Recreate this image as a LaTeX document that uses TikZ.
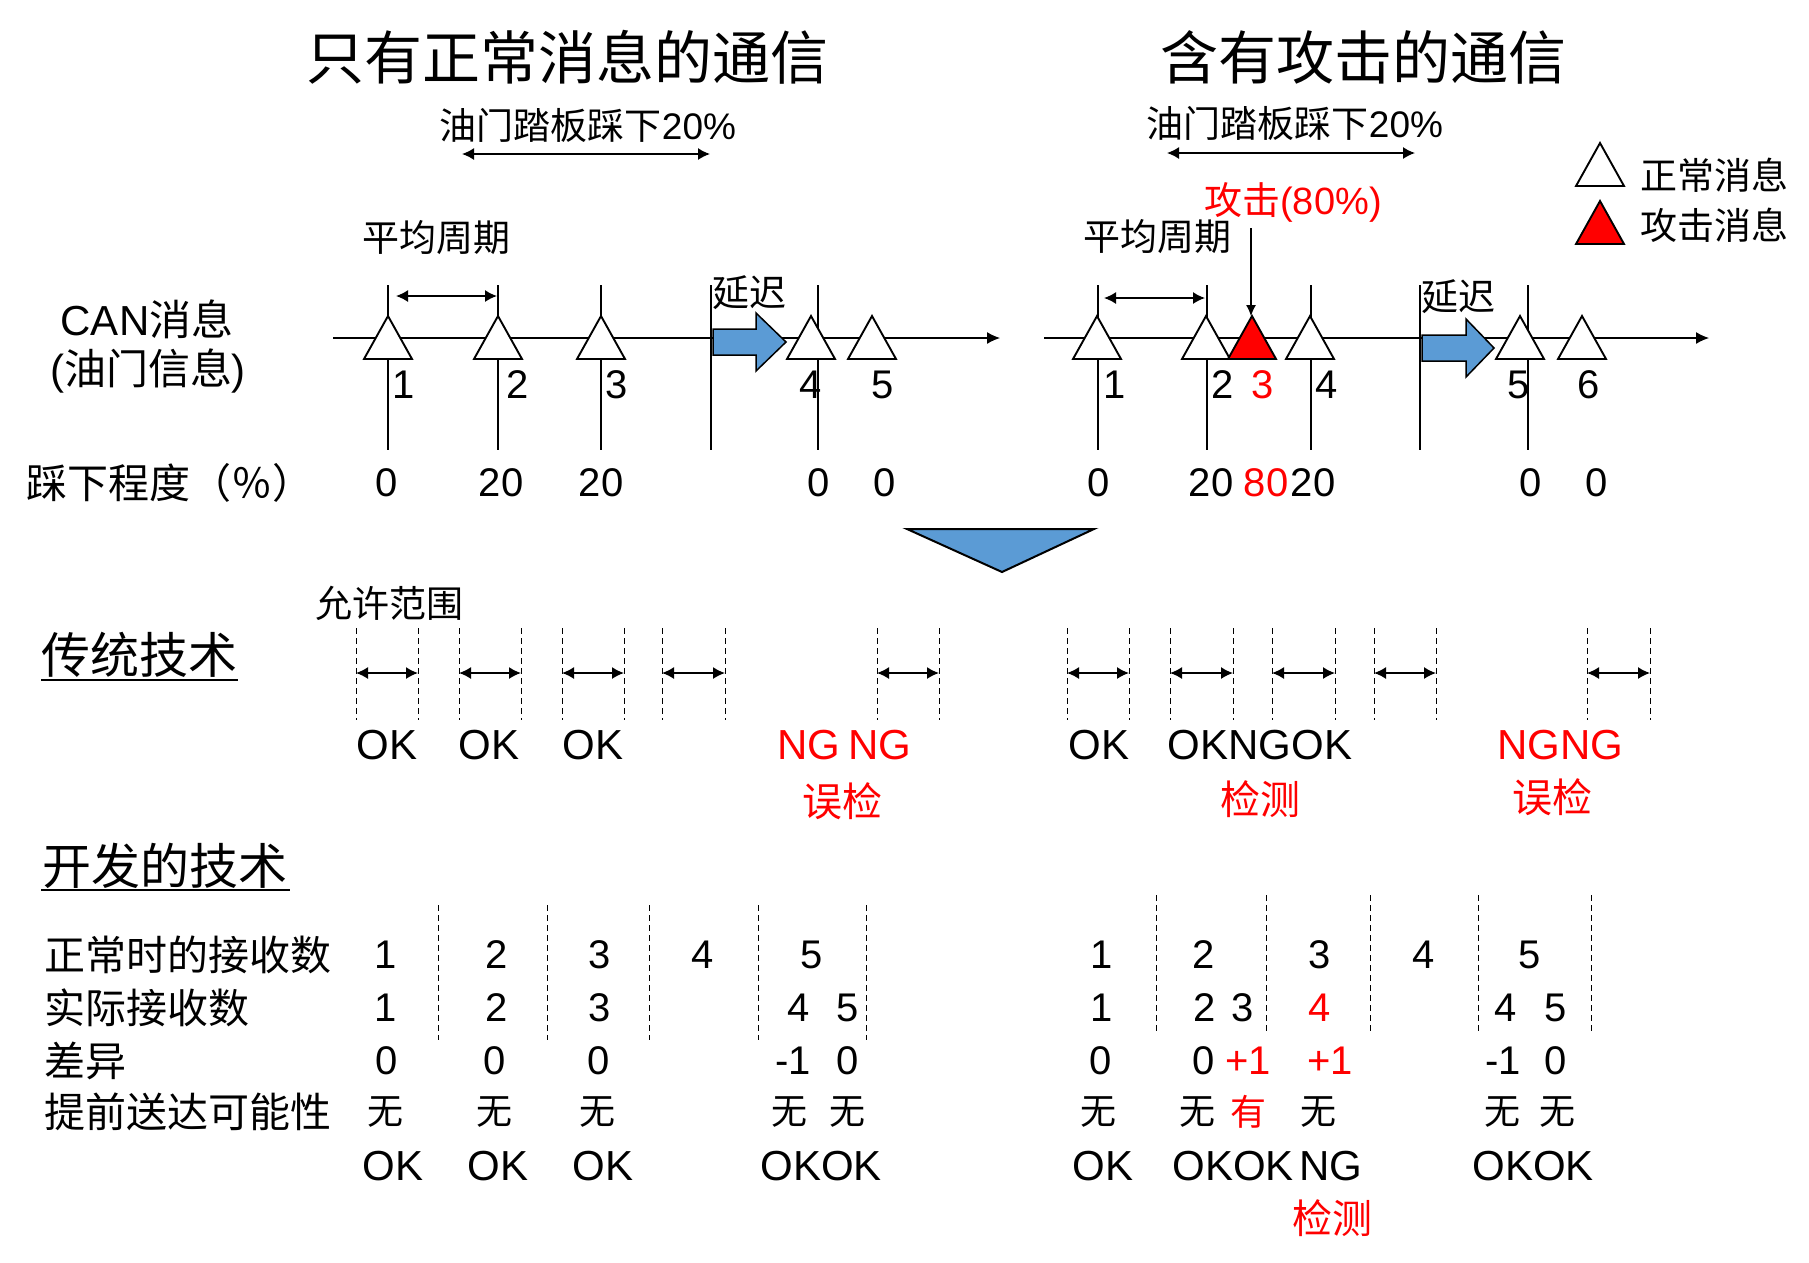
\documentclass[tikz,border=0pt]{standalone}
\usepackage{fontspec}
\setmainfont{Liberation Sans}
\newfontfamily\cjk{Noto Sans CJK SC}
\usetikzlibrary{arrows.meta}
\definecolor{rd}{RGB}{255,0,0}
\definecolor{bl}{RGB}{91,155,213}
\begin{document}
\begin{tikzpicture}[x=1pt,y=-1pt,
  lbl/.style={inner sep=0pt,outer sep=0pt,anchor=center},
  cn/.style={lbl,font={\cjk\fontsize{#1}{#1}\selectfont}},
  la/.style={lbl,font={\fontsize{#1}{#1}\selectfont}},
  red/.style={text=rd},
  tline/.style={line width=1.3pt,-{Latex[length=13pt,width=12pt]}},
  vline/.style={line width=1.1pt},
  dbl/.style={line width=1.5pt,{Latex[length=12pt,width=12pt]}-{Latex[length=12pt,width=12pt]}},
  dsh/.style={line width=1pt,dash pattern=on 6pt off 4pt},
  barrow/.style={draw=black,line width=1.5pt,fill=bl,line join=miter},
  uline/.style={line width=2pt},
  msgtri/.pic={\draw[line width=1.9pt,fill=#1,line join=miter] (-24,21.5) -- (0,-21.5) -- (24,21.5) -- cycle;}
]
\useasboundingbox (0,0) rectangle (1809,1262);

% ---------------- titles ----------------
\node[cn=58] (title1) at (567,57) {只有正常消息的通信};
\node[cn=58] (title2) at (1363,57) {含有攻击的通信};

\node[la=37] (pedL) at (588,125) {{\cjk 油门踏板踩下}20\%};
\node[la=37] (pedR) at (1295,123) {{\cjk 油门踏板踩下}20\%};
\coordinate (pedLa) at (462,154); \coordinate (pedLb) at (710,154);
\coordinate (pedRa) at (1167,153); \coordinate (pedRb) at (1415,153);
\draw[dbl] (pedLa) -- (pedLb);
\draw[dbl] (pedRa) -- (pedRb);

% legend
\pic at (1600,164.5) {msgtri=white};
\pic at (1600,222.5) {msgtri=rd};
\node[cn=37] (legN) at (1714,175) {正常消息};
\node[cn=37] (legA) at (1714,225) {攻击消息};

\node[la=38,red] (atk) at (1293,202) {{\cjk 攻击}(80\%)};
\node[cn=37] (perL) at (436,238) {平均周期};
\node[cn=37] (perR) at (1157,237) {平均周期};
\node[cn=37] (delL) at (749,293) {延迟};
\node[cn=37] (delR) at (1458,297) {延迟};

\node[la=42] (can1) at (147,319) {CAN{\cjk 消息}};
\node[la=42] (can2) at (148,371) {({\cjk 油门信息})};
\node[cn=41,anchor=west] (deg) at (27,483) {踩下程度（％）};

% ---------------- timelines ----------------
\coordinate (tlLa) at (333,338); \coordinate (tlLb) at (1000,338);
\coordinate (tlRa) at (1044,338); \coordinate (tlRb) at (1709,338);
\draw[tline] (tlLa) -- (tlLb);
\draw[tline] (tlRa) -- (tlRb);

\foreach \x [count=\i] in {388,498,601,711,818} {
  \coordinate (lvA\i) at (\x,285); \coordinate (lvB\i) at (\x,450);
  \draw[vline] (lvA\i) -- (lvB\i);
}
\foreach \x [count=\i] in {1098,1207,1311,1420,1528} {
  \coordinate (rvA\i) at (\x,285); \coordinate (rvB\i) at (\x,450);
  \draw[vline] (rvA\i) -- (rvB\i);
}

% period arrows
\coordinate (perLa) at (396,296); \coordinate (perLb) at (497,296);
\coordinate (perRa) at (1104,298); \coordinate (perRb) at (1205,298);
\draw[dbl] (perLa) -- (perLb);
\draw[dbl] (perRa) -- (perRb);

% attack arrow
\coordinate (atkA) at (1251,228); \coordinate (atkB) at (1251,316);
\draw[line width=1.1pt,-{Latex[length=11pt,width=10pt]}] (atkA) -- (atkB);

% delay arrows
\draw[barrow] (713,329) -- (756,329) -- (756,313) -- (786,342) -- (756,371) -- (756,355) -- (713,355) -- cycle;
\draw[barrow] (1422,335) -- (1466,335) -- (1466,319) -- (1494,348) -- (1466,377) -- (1466,361) -- (1422,361) -- cycle;

% triangles
\foreach \x in {388,498,601,811,872} { \pic at (\x,337.5) {msgtri=white}; }
\foreach \x in {1097,1206,1310,1520,1582} { \pic at (\x,337.5) {msgtri=white}; }
\pic at (1252,337.5) {msgtri=rd};

% numbers
\foreach \x/\t [count=\i] in {404/1,518/2,617/3,811/4,883/5} { \node[la=40] (nL\i) at (\x,385) {\t}; }
\foreach \x/\t [count=\i] in {1115/1,1223/2,1327/4,1519/5,1589/6} { \node[la=40] (nR\i) at (\x,385) {\t}; }
\node[la=40,red] (nR3) at (1263,385) {3};

\foreach \x/\t [count=\i] in {387/0,501/20,601/20,819/0,885/0} { \node[la=40] (pL\i) at (\x,483) {\t}; }
\foreach \x/\t [count=\i] in {1099/0,1211/20,1313/20,1531/0,1597/0} { \node[la=40] (pR\i) at (\x,483) {\t}; }
\node[la=40,red] (pR80) at (1266,483) {80};

% big down triangle
\draw[line width=2pt,fill=bl,line join=miter] (907,529) -- (1094,529) -- (1002,572) -- cycle;

% ---------------- conventional technique ----------------
\node[cn=49] (conv) at (139,655) {传统技术};
\coordinate (convA) at (41,680); \coordinate (convB) at (238,680);
\draw[uline] (convA) -- (convB);
\node[cn=37] (allow) at (389,603) {允许范围};

\foreach \a/\b [count=\i] in {356/418,459/521,562/624,662/725,877/939,1067/1129,1170/1233,1272/1335,1374/1436,1587/1650} {
  \coordinate (dA\i) at (\a,628); \coordinate (dB\i) at (\a,720);
  \coordinate (eA\i) at (\b,628); \coordinate (eB\i) at (\b,720);
  \draw[dsh] (dA\i) -- (dB\i);
  \draw[dsh] (eA\i) -- (eB\i);
  \coordinate (gA\i) at (\a,673); \coordinate (gB\i) at (\b,673);
  \draw[dbl] (gA\i) -- (gB\i);
}

\foreach \x/\t [count=\i] in {387/OK,489/OK,593/OK,1099/OK,1260/OKNGOK} { \node[la=42] (cv\i) at (\x,745) {\t}; }
\node[la=42,red] (ng1) at (809,745) {NG};
\node[la=42,red] (ng2) at (880,745) {NG};
\node[la=42,red] (ng3) at (1560,745) {NGNG};
\node[cn=40,red] (fp1) at (842,801) {误检};
\node[cn=40,red] (det1) at (1260,799) {检测};
\node[cn=40,red] (fp2) at (1552,797) {误检};

% ---------------- developed technique ----------------
\node[cn=49] (dev) at (165,866) {开发的技术};
\coordinate (devA) at (41,890); \coordinate (devB) at (290,890);
\draw[uline] (devA) -- (devB);

\node[cn=41,anchor=west] (r1) at (44,955) {正常时的接收数};
\node[cn=41,anchor=west] (r2) at (44,1008) {实际接收数};
\node[cn=41,anchor=west] (r3) at (44,1061) {差异};
\node[cn=41,anchor=west] (r4) at (44,1112) {提前送达可能性};

\foreach \x [count=\i] in {438,547,649,758,866} {
  \coordinate (bA\i) at (\x,905); \coordinate (bB\i) at (\x,1040);
  \draw[dsh] (bA\i) -- (bB\i);
}
\foreach \x [count=\i] in {1156,1266,1370,1478,1591} {
  \coordinate (cA\i) at (\x,895); \coordinate (cB\i) at (\x,1033);
  \draw[dsh] (cA\i) -- (cB\i);
}

% row 1
\foreach \x/\t [count=\i] in {386/1,497/2,600/3,703/4,812/5,1102/1,1204/2,1320/3,1424/4,1530/5} { \node[la=40] (ra\i) at (\x,955) {\t}; }
% row 2
\foreach \x/\t [count=\i] in {386/1,497/2,600/3,799/4,848/5,1102/1,1205/2,1243/3,1506/4,1556/5} { \node[la=40] (rb\i) at (\x,1008) {\t}; }
\node[la=40,red] (rbX) at (1320,1008) {4};
% row 3
\foreach \x/\t [count=\i] in {387/0,495/0,599/0,793/-1,848/0,1101/0,1204/0,1503/-1,1556/0} { \node[la=40] (rc\i) at (\x,1061) {\t}; }
\node[la=40,red] (rcX) at (1248,1061) {+1};
\node[la=40,red] (rcY) at (1330,1061) {+1};
% row 4
\foreach \x [count=\i] in {385,494,597,789,847,1098,1197,1318,1502,1557} { \node[cn=36] (rd\i) at (\x,1112) {无}; }
\node[cn=36,red] (rdX) at (1248,1112) {有};
% row 5
\foreach \x/\t [count=\i] in {393/OK,498/OK,603/OK,821/OKOK,1103/OK,1233/OKOK,1331/NG,1533/OKOK} { \node[la=42] (re\i) at (\x,1166) {\t}; }
\node[cn=40,red] (det2) at (1332,1218) {检测};

\end{tikzpicture}
\end{document}
